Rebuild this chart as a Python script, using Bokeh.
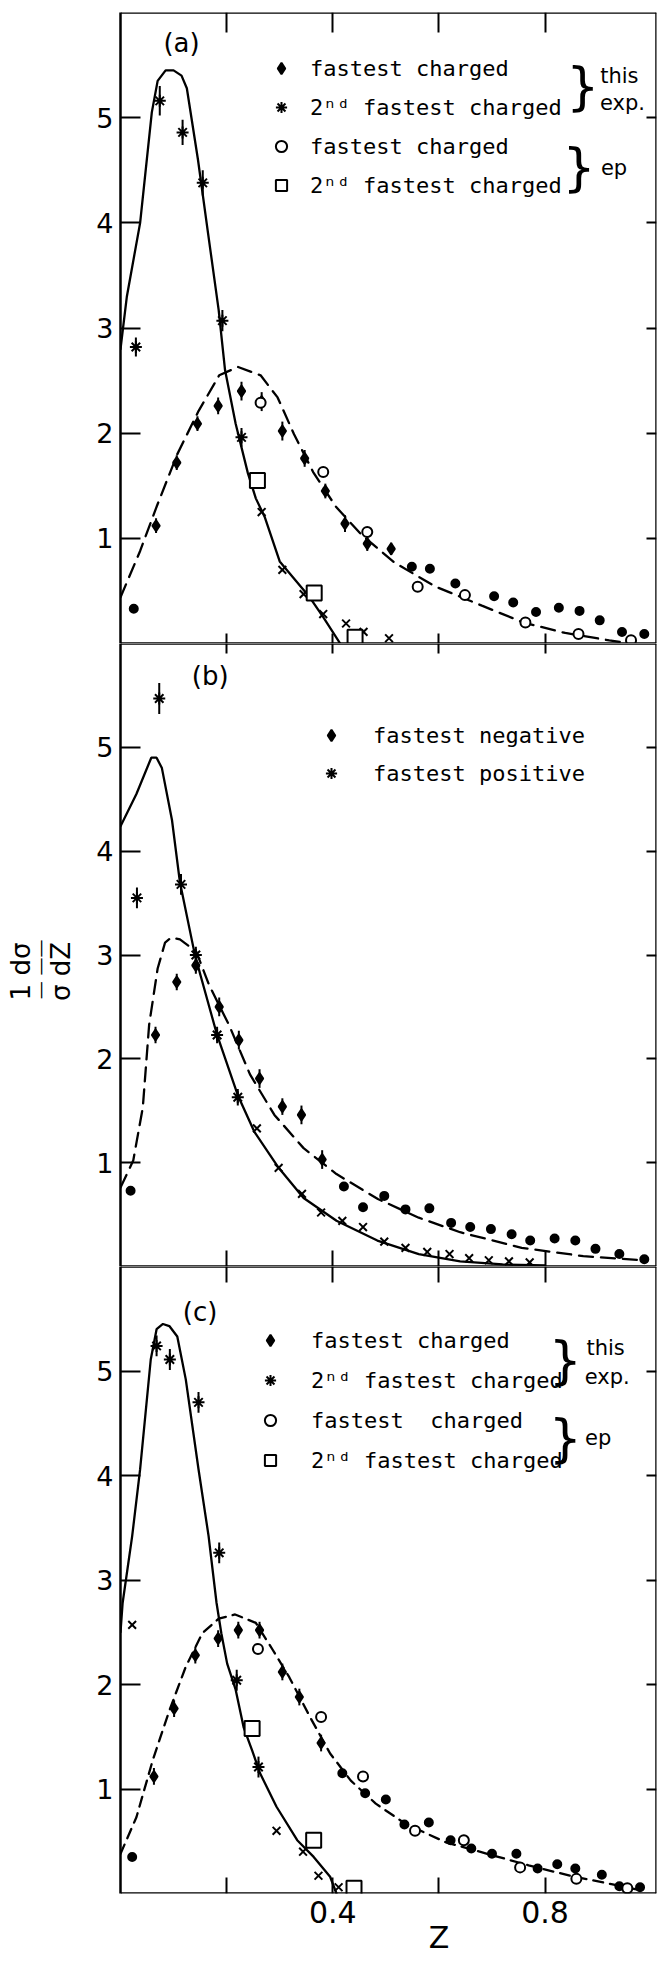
from bokeh.plotting import figure
from bokeh.models import (ColumnDataSource, FixedTicker, Label, Legend, LegendItem,
                          LinearAxis, Range1d)
from bokeh.layouts import column
from bokeh.embed import file_html
from bokeh.resources import INLINE

FONT = "DejaVu Sans"
MONO = "DejaVu Sans Mono"
THIN = "DejaVu Sans ExtraLight, DejaVu Sans"

Z_MAX = 1.01
Y_MAX = 6.0
Z_TICKS = [0.2, 0.4, 0.6, 0.8]
Z_LABELLED = [0.4, 0.8]
Y_TICKS = [1, 2, 3, 4, 5]

# ---------------- panel (a): fastest / 2nd fastest charged ----------------
a_solid_z = [0.0, 0.012, 0.037, 0.059, 0.07, 0.085, 0.1, 0.115, 0.125, 0.146, 0.165,
             0.185, 0.197, 0.217, 0.24, 0.255, 0.272, 0.3, 0.33, 0.355, 0.382, 0.414]
a_solid_y = [2.8, 3.3, 4.0, 5.05, 5.35, 5.45, 5.45, 5.4, 5.28, 4.6, 3.9,
             3.17, 2.6, 2.09, 1.62, 1.38, 1.2, 0.78, 0.6, 0.45, 0.25, 0.0]
a_dash_z = [0.0, 0.037, 0.068, 0.107, 0.147, 0.186, 0.221, 0.264, 0.296, 0.327, 0.363,
            0.406, 0.453, 0.516, 0.594, 0.681, 0.759, 0.838, 0.921, 0.96]
a_dash_y = [0.44, 0.88, 1.30, 1.80, 2.21, 2.55, 2.63, 2.55, 2.34, 1.99, 1.63,
            1.30, 1.04, 0.77, 0.54, 0.36, 0.20, 0.10, 0.03, 0.0]

a_fast_z = [0.025, 0.067, 0.106, 0.145, 0.184, 0.228, 0.266, 0.305, 0.347, 0.386, 0.423,
            0.465, 0.51, 0.549, 0.583, 0.631, 0.704, 0.74, 0.783, 0.826, 0.865, 0.903,
            0.945, 0.987]
a_fast_y = [0.33, 1.12, 1.72, 2.09, 2.26, 2.40, 2.30, 2.02, 1.76, 1.45, 1.14,
            0.95, 0.90, 0.73, 0.71, 0.57, 0.45, 0.39, 0.30, 0.34, 0.31, 0.22,
            0.11, 0.09]
a_fast_err = [0.0, 0.07, 0.07, 0.07, 0.08, 0.09, 0.09, 0.09, 0.08, 0.07, 0.08,
              0.07, 0.06, 0.0, 0.0, 0.0, 0.0, 0.0, 0.0, 0.0, 0.0, 0.0,
              0.0, 0.0]

a_second_z = [0.029, 0.074, 0.117, 0.155, 0.192, 0.228, 0.266, 0.305, 0.345, 0.382,
              0.425, 0.458, 0.506]
a_second_y = [2.82, 5.16, 4.86, 4.38, 3.07, 1.96, 1.25, 0.70, 0.47, 0.28,
              0.19, 0.11, 0.05]
a_second_err = [0.09, 0.14, 0.12, 0.12, 0.10, 0.09, 0.0, 0.0, 0.0, 0.0,
                0.0, 0.0, 0.0]

a_ep_fast_z = [0.264, 0.382, 0.465, 0.56, 0.649, 0.763, 0.863, 0.962]
a_ep_fast_y = [2.29, 1.63, 1.06, 0.54, 0.46, 0.20, 0.09, 0.03]
a_ep_second_z = [0.258, 0.365, 0.442]
a_ep_second_y = [1.55, 0.48, 0.06]

# ---------------- panel (b): fastest negative / positive ----------------
b_solid_z = [0.0, 0.03, 0.058, 0.068, 0.078, 0.097, 0.112, 0.139, 0.151, 0.182, 0.221,
             0.252, 0.298, 0.345, 0.407, 0.484, 0.562, 0.64, 0.72, 0.8]
b_solid_y = [4.24, 4.55, 4.90, 4.90, 4.80, 4.30, 3.70, 3.03, 2.80, 2.23, 1.65,
             1.30, 0.95, 0.66, 0.44, 0.25, 0.12, 0.05, 0.02, 0.01]
b_dash_z = [0.0, 0.024, 0.042, 0.054, 0.07, 0.084, 0.096, 0.112, 0.128, 0.143, 0.167,
            0.205, 0.244, 0.29, 0.345, 0.407, 0.485, 0.562, 0.64, 0.756, 0.872, 0.981]
b_dash_y = [0.76, 1.02, 1.53, 2.33, 2.87, 3.12, 3.17, 3.15, 3.09, 3.03, 2.71,
            2.32, 1.85, 1.46, 1.14, 0.89, 0.65, 0.47, 0.33, 0.18, 0.10, 0.06]

b_neg_z = [0.019, 0.066, 0.106, 0.142, 0.186, 0.223, 0.262, 0.305, 0.341, 0.38, 0.421,
           0.457, 0.497, 0.537, 0.582, 0.623, 0.659, 0.698, 0.737, 0.772, 0.818, 0.857,
           0.895, 0.94, 0.987]
b_neg_y = [0.73, 2.23, 2.74, 2.90, 2.50, 2.18, 1.81, 1.54, 1.46, 1.03, 0.77,
           0.57, 0.68, 0.55, 0.56, 0.42, 0.38, 0.36, 0.31, 0.25, 0.27, 0.25,
           0.17, 0.12, 0.07]
b_neg_err = [0.0, 0.08, 0.08, 0.08, 0.09, 0.09, 0.09, 0.08, 0.09, 0.09, 0.0,
             0.0, 0.0, 0.0, 0.0, 0.0, 0.0, 0.0, 0.0, 0.0, 0.0, 0.0,
             0.0, 0.0, 0.0]

b_pos_z = [0.031, 0.073, 0.114, 0.142, 0.182, 0.221, 0.257, 0.298, 0.342, 0.378,
           0.418, 0.457, 0.497, 0.537, 0.578, 0.62, 0.657, 0.694, 0.732, 0.771]
b_pos_y = [3.55, 5.47, 3.68, 3.00, 2.23, 1.63, 1.33, 0.95, 0.70, 0.52,
           0.44, 0.38, 0.24, 0.18, 0.14, 0.12, 0.08, 0.06, 0.05, 0.04]
b_pos_err = [0.10, 0.15, 0.10, 0.08, 0.08, 0.08, 0.0, 0.0, 0.0, 0.0,
             0.0, 0.0, 0.0, 0.0, 0.0, 0.0, 0.0, 0.0, 0.0, 0.0]

# ---------------- panel (c): fastest / 2nd fastest charged ----------------
c_solid_z = [0.0, 0.004, 0.022, 0.037, 0.057, 0.068, 0.08, 0.092, 0.107, 0.123, 0.147,
             0.166, 0.181, 0.19, 0.201, 0.217, 0.232, 0.248, 0.263, 0.294, 0.333,
             0.364, 0.395, 0.407]
c_solid_y = [2.5, 2.78, 3.42, 4.06, 5.11, 5.40, 5.45, 5.43, 5.33, 4.92, 4.06,
             3.42, 2.78, 2.49, 2.20, 1.95, 1.59, 1.37, 1.15, 0.83, 0.51,
             0.35, 0.16, 0.0]
c_dash_z = [0.0, 0.03, 0.061, 0.092, 0.123, 0.154, 0.185, 0.216, 0.255, 0.287, 0.318,
            0.357, 0.395, 0.434, 0.481, 0.536, 0.613, 0.691, 0.769, 0.847, 0.925, 0.98]
c_dash_y = [0.38, 0.73, 1.28, 1.75, 2.17, 2.49, 2.63, 2.67, 2.59, 2.33, 2.07,
            1.69, 1.34, 1.08, 0.86, 0.67, 0.49, 0.38, 0.27, 0.17, 0.09, 0.03]

c_fast_z = [0.022, 0.063, 0.101, 0.141, 0.184, 0.222, 0.262, 0.305, 0.337, 0.378, 0.418,
            0.461, 0.5, 0.535, 0.581, 0.622, 0.661, 0.7, 0.746, 0.786, 0.823, 0.857,
            0.907, 0.94, 0.979]
c_fast_y = [0.35, 1.12, 1.77, 2.28, 2.44, 2.52, 2.52, 2.12, 1.88, 1.44, 1.15,
            0.96, 0.90, 0.66, 0.68, 0.51, 0.43, 0.38, 0.38, 0.24, 0.28, 0.24,
            0.18, 0.07, 0.06]
c_fast_err = [0.0, 0.08, 0.08, 0.08, 0.08, 0.08, 0.08, 0.08, 0.08, 0.08, 0.0,
              0.0, 0.0, 0.0, 0.0, 0.0, 0.0, 0.0, 0.0, 0.0, 0.0, 0.0,
              0.0, 0.0, 0.0]

c_second_z = [0.022, 0.068, 0.093, 0.147, 0.186, 0.219, 0.26, 0.294, 0.344, 0.373, 0.411]
c_second_y = [2.57, 5.24, 5.11, 4.70, 3.26, 2.04, 1.21, 0.60, 0.40, 0.17, 0.06]
c_second_err = [0.0, 0.10, 0.10, 0.10, 0.10, 0.10, 0.10, 0.0, 0.0, 0.0, 0.0]

c_ep_fast_z = [0.259, 0.378, 0.457, 0.555, 0.647, 0.753, 0.859, 0.955]
c_ep_fast_y = [2.34, 1.69, 1.12, 0.60, 0.51, 0.25, 0.14, 0.05]
c_ep_second_z = [0.248, 0.364, 0.44]
c_ep_second_y = [1.58, 0.51, 0.05]


def frame_axis(p, side, loc, ticks, tick_in):
    """Unlabelled frame edge with inward ticks, pinned to a range end."""
    ax = LinearAxis(fixed_location=loc, ticker=FixedTicker(ticks=ticks, minor_ticks=[]),
                    major_tick_in=tick_in, major_tick_out=0,
                    minor_tick_line_color=None, major_label_text_color=None,
                    axis_line_width=2.5, axis_line_color="black",
                    major_tick_line_width=2, major_tick_line_color="black")
    p.add_layout(ax, side)


def title_axis(p, side, label, size, standoff):
    """An axis that only carries a title (no line, ticks or tick labels)."""
    ax = LinearAxis(ticker=FixedTicker(ticks=[], minor_ticks=[]),
                    axis_line_color=None, major_tick_line_color=None,
                    minor_tick_line_color=None, major_label_text_color=None,
                    major_tick_in=0, major_tick_out=0,
                    axis_label=label, axis_label_text_font=FONT,
                    axis_label_text_font_size=size, axis_label_text_font_style="normal",
                    axis_label_text_color="black", axis_label_standoff=standoff)
    p.add_layout(ax, side)


def make_panel(height, left, right, top, bottom, top_tick, bottom_tick):
    p = figure(width=659, height=height,
               x_range=Range1d(0, Z_MAX), y_range=Range1d(0, Y_MAX),
               x_axis_type=None, y_axis_type=None,
               toolbar_location=None, output_backend="svg",
               min_border_left=left, min_border_right=right,
               min_border_top=top, min_border_bottom=bottom,
               outline_line_color=None,
               background_fill_color="white", border_fill_color="white")
    yax = LinearAxis(ticker=FixedTicker(ticks=Y_TICKS, minor_ticks=[]),
                     major_tick_in=20, major_tick_out=0, minor_tick_line_color=None,
                     major_label_standoff=7, major_label_text_font=FONT,
                     major_label_text_font_size="27px", major_label_text_color="black",
                     axis_line_width=2.5, major_tick_line_width=2)
    p.add_layout(yax, "left")
    frame_axis(p, "right", Z_MAX, Y_TICKS, 10)
    frame_axis(p, "above", Y_MAX, Z_TICKS, top_tick)
    frame_axis(p, "below", 0, Z_TICKS, bottom_tick)
    return p


def curve(p, z, y, dash=None):
    kw = dict(line_width=2.3, line_color="black", line_cap="round")
    if dash:
        kw["line_dash"] = dash
    p.line(z, y, **kw)


def points(p, z, y, err, marker, err_marker=None, size=11, err_size=None,
           fill=True, line_width=2):
    """Scatter a series; points with an error get a vertical bar."""
    lo = [v - e for v, e in zip(y, err)]
    hi = [v + e for v, e in zip(y, err)]
    m = [err_marker if (err_marker and e > 0) else marker for e in err]
    s = [(err_size or size) if e > 0 else size for e in err]
    src = ColumnDataSource(dict(z=z, y=y, lo=lo, hi=hi, m=m, s=s))
    p.segment("z", "lo", "z", "hi", source=src, line_width=2, line_color="black")
    return p.scatter("z", "y", marker="m", size="s", source=src,
                     line_color="black", line_width=line_width,
                     fill_color="black" if fill else "white")


def text(p, x, y, t, size, font=FONT, align="center"):
    p.add_layout(Label(x=x, y=y, text=t, text_font=font, text_font_size=size,
                       text_align=align, text_baseline="middle", text_color="black"))


def legend(p, entries, loc, standoff, spacing):
    items = [LegendItem(label=lab, renderers=[r], index=i) for lab, r, i in entries]
    p.add_layout(Legend(items=items, location=loc, orientation="vertical",
                        border_line_color=None, background_fill_alpha=0,
                        label_text_font=MONO, label_text_font_size="22px",
                        label_text_color="black",
                        glyph_width=28, glyph_height=28, label_height=20,
                        label_standoff=standoff, spacing=spacing,
                        padding=0, margin=0))


def errs0(n):
    return [0.0] * n


def charged_panel(p, solid, dash, fast, second, ep_fast, ep_second, dash_pat):
    curve(p, *solid)
    curve(p, *dash, dash=dash_pat)
    r_fast = points(p, *fast, marker="circle", err_marker="diamond", size=8, err_size=11)
    r_second = points(p, *second, marker="x", err_marker="asterisk", size=11, err_size=12)
    r_epf = points(p, ep_fast[0], ep_fast[1], errs0(len(ep_fast[0])), "circle",
                   size=10, fill=False)
    r_eps = points(p, ep_second[0], ep_second[1], errs0(len(ep_second[0])), "square",
                   size=15, fill=False)
    return r_fast, r_second, r_epf, r_eps


# ---------------- (a) ----------------
pa = make_panel(643, 120, 1, 12, 0, 20, 10)
ra = charged_panel(pa, (a_solid_z, a_solid_y), (a_dash_z, a_dash_y),
                   (a_fast_z, a_fast_y, a_fast_err), (a_second_z, a_second_y, a_second_err),
                   (a_ep_fast_z, a_ep_fast_y), (a_ep_second_z, a_ep_second_y), "14 8")
legend(pa, [("fastest charged", ra[0], 1), ("2\u207f\u1d48 fastest charged", ra[1], 1),
            ("fastest charged", ra[2], 0), ("2\u207f\u1d48 fastest charged", ra[3], 0)],
       (147, 444), 15, 11)
text(pa, 0.115, 5.71, "(a)", "26px")
text(pa, 0.871, 5.30, "}", "52px", font=THIN)
text(pa, 0.864, 4.53, "}", "52px", font=THIN)
text(pa, 0.94, 5.40, "this", "21px")
text(pa, 0.946, 5.14, "exp.", "21px")
text(pa, 0.93, 4.52, "ep", "21px")

# ---------------- (b) ----------------
pb = make_panel(623, 115, 1, 0, 0, 10, 16)
# y title  (1/sigma) dsigma/dZ  set as a stacked fraction: denominators,
# fraction bars and numerators each ride on their own title-only axis
title_axis(pb, "left", "\u03c3    dZ ", "26px", 18)
title_axis(pb, "left", "\u2014     \u2014\u2014 ", "18px", -7)
title_axis(pb, "left", "1    d\u03c3 ", "26px", -10)
curve(pb, b_solid_z, b_solid_y)
curve(pb, b_dash_z, b_dash_y, dash="14 8")
rb_neg = points(pb, b_neg_z, b_neg_y, b_neg_err, marker="circle", err_marker="diamond",
                size=8, err_size=11)
rb_pos = points(pb, b_pos_z, b_pos_y, b_pos_err, marker="x", err_marker="asterisk",
                size=11, err_size=12)
legend(pb, [("fastest negative", rb_neg, 1), ("fastest positive", rb_pos, 0)],
       (197, 479), 28, 10)
text(pb, 0.169, 5.69, "(b)", "26px")

# ---------------- (c) ----------------
pc = make_panel(704, 111, 3, 0, 77, 16, 16)
zax = LinearAxis(ticker=FixedTicker(ticks=Z_LABELLED, minor_ticks=[]),
                 major_tick_in=0, major_tick_out=0, major_tick_line_color=None,
                 minor_tick_line_color=None, axis_line_color=None,
                 major_label_standoff=7, major_label_text_font=FONT,
                 major_label_text_font_size="30px", major_label_text_color="black")
pc.add_layout(zax, "below")
# the variable name sits under z = 0.6 rather than mid-axis
zname = LinearAxis(ticker=FixedTicker(ticks=[0.6], minor_ticks=[]),
                   major_label_overrides={0.6: "Z"},
                   major_tick_in=0, major_tick_out=0, major_tick_line_color=None,
                   minor_tick_line_color=None, axis_line_color=None,
                   major_label_standoff=-6, major_label_text_font=FONT,
                   major_label_text_font_size="30px", major_label_text_color="black")
pc.add_layout(zname, "below")
rc = charged_panel(pc, (c_solid_z, c_solid_y), (c_dash_z, c_dash_y),
                   (c_fast_z, c_fast_y, c_fast_err), (c_second_z, c_second_y, c_second_err),
                   (c_ep_fast_z, c_ep_fast_y), (c_ep_second_z, c_ep_second_y), "10 7")
legend(pc, [("fastest charged", rc[0], 1), ("2\u207f\u1d48 fastest charged", rc[1], 1),
            ("fastest  charged", rc[2], 0), ("2\u207f\u1d48 fastest charged", rc[3], 0)],
       (136, 419), 27, 12)
text(pc, 0.15, 5.56, "(c)", "26px")
text(pc, 0.838, 5.11, "}", "52px", font=THIN)
text(pc, 0.838, 4.36, "}", "52px", font=THIN)
text(pc, 0.914, 5.22, "this", "21px")
text(pc, 0.917, 4.94, "exp.", "21px")
text(pc, 0.90, 4.36, "ep", "21px")

layout = column(pa, pb, pc, spacing=0)
open("out.html", "w").write(file_html(layout, INLINE))
